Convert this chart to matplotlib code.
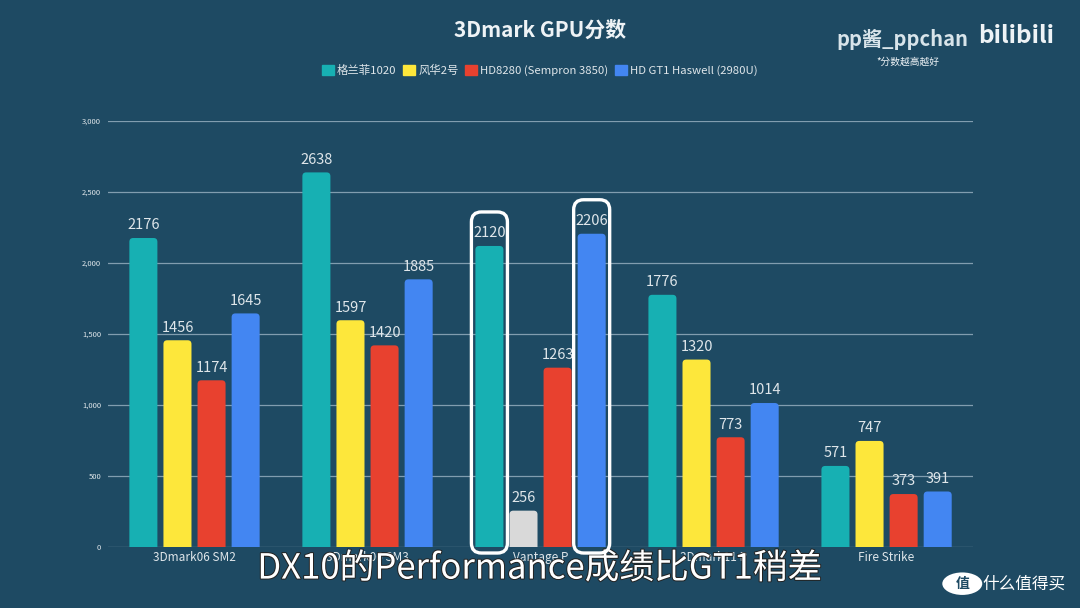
import matplotlib
matplotlib.use("Agg")
import matplotlib.pyplot as plt
import matplotlib.patheffects as pe
from matplotlib.patches import FancyBboxPatch, Rectangle, Circle
import numpy as np

BG = "#1e4a63"
TXT = "#dfe6ea"
GRID = "#819daf"

categories = ["3Dmark06 SM2", "3Dmark06 SM3", "Vantage P", "3Dmark11 P", "Fire Strike"]
series_names = ["格兰菲1020", "风华2号", "HD8280 (Sempron 3850)", "HD GT1 Haswell (2980U)"]
glenfly = [2176, 2638, 2120, 1776, 571]
fenghua = [1456, 1597, 256, 1320, 747]
hd8280 = [1174, 1420, 1263, 773, 373]
gt1 = [1645, 1885, 2206, 1014, 391]
colors = ["#17b0b3", "#fde73b", "#e8412f", "#4386f2"]
yticks = [0, 500, 1000, 1500, 2000, 2500, 3000]

plt.rcParams["font.family"] = ["Noto Sans CJK SC", "DejaVu Sans"]

fig = plt.figure(figsize=(10.8, 6.08), dpi=100)
fig.patch.set_facecolor(BG)
ax = fig.add_axes([0.1, 0.1003, 0.801, 0.7007])
ax.set_facecolor(BG)
ax.set_xlim(-0.5, 4.5)
ax.set_ylim(0, 3000)

x = np.arange(len(categories))
width = 0.162
step = 0.197
all_series = [glenfly, fenghua, hd8280, gt1]

# aspect between y and x data units, for round bar tops
ax_w = 0.801 * 1080
ax_h = 0.7007 * 608
aspect = (3000 / ax_h) / (5 / ax_w)

bars_by_series = []
for i, (vals, col) in enumerate(zip(all_series, colors)):
    pos = x + (i - 1.5) * step
    bar_cols = [col] * len(vals)
    if i == 1:
        bar_cols[2] = "#d9d9d9"  # faded bar in the Vantage group
    bars = ax.bar(pos, vals, width, color=bar_cols, zorder=3)
    for b, c in zip(bars, bar_cols):
        b.set_visible(False)
        rb = FancyBboxPatch((b.get_x(), -80), b.get_width(), b.get_height() + 80,
                            boxstyle="round,pad=0,rounding_size=0.022",
                            mutation_aspect=aspect, facecolor=c,
                            edgecolor="none", zorder=3)
        ax.add_patch(rb)
    bars_by_series.append(bars)
    for p, v in zip(pos, vals):
        ax.text(p, v + 40, str(v), ha="center", va="bottom", fontsize=10.5,
                color=TXT, zorder=4)

ax.set_yticks(yticks)
ax.set_yticklabels([f"{t:,}" for t in yticks], fontsize=5.5, color=TXT)
ax.set_xticks(x)
ax.set_xticklabels(categories, fontsize=8.5, color=TXT)
ax.tick_params(length=0, pad=3)
ax.tick_params(axis="y", pad=5)
ax.grid(axis="y", color=GRID, linewidth=0.9, zorder=0)
for s in ax.spines.values():
    s.set_visible(False)

# title + legend
fig.text(0.5, 0.95, "3Dmark GPU分数", ha="center", va="center",
         fontsize=15, fontweight="bold", color="#eef3f6")
handles = [Rectangle((0, 0), 1, 1, color=c) for c in colors]
leg = fig.legend(handles, series_names, loc="center", bbox_to_anchor=(0.5, 0.885),
                 ncol=4, frameon=False, fontsize=8.2, handlelength=1.0,
                 handleheight=1.0, handletextpad=0.3, columnspacing=0.6)
for t in leg.get_texts():
    t.set_color(TXT)

# highlight boxes around the Vantage P bars
fig.canvas.draw()
for bars in (bars_by_series[0], bars_by_series[3]):
    b = bars[2]
    (x0, y0) = ax.transData.transform((b.get_x(), 0))
    (x1, y1) = ax.transData.transform((b.get_x() + b.get_width(), b.get_height()))
    box = FancyBboxPatch((x0 - 4, y0 - 6), (x1 - x0) + 8, (y1 - y0) + 40,
                         boxstyle="round,pad=0,rounding_size=10",
                         transform=None, fill=False, edgecolor="white",
                         linewidth=2.4, zorder=5)
    fig.patches.append(box)

# watermarks
fig.text(0.774, 0.935, "pp酱_ppchan", fontsize=14.5, color="#d8e4ea",
         ha="left", va="center", fontweight="bold")
fig.text(0.906, 0.94, "bilibili", fontsize=17.5, color="#eef3f6",
         ha="left", va="center", fontweight="bold")
fig.text(0.811, 0.898, "*分数越高越好", fontsize=7, color="#eef3f6",
         ha="left", va="center")
fig.patches.append(Circle((0.891, 0.04), 0.0185, transform=fig.transFigure,
                          facecolor="white", edgecolor="none"))
fig.text(0.891, 0.04, "值", fontsize=10, color=BG, ha="center", va="center",
         fontweight="bold")
fig.text(0.91, 0.04, "什么值得买", fontsize=12, color="white", ha="left", va="center")

# subtitle overlay
fig.text(0.5, 0.064, "DX10的Performance成绩比GT1稍差", ha="center", va="center",
         fontsize=25, color="white", fontweight="light",
         path_effects=[pe.withStroke(linewidth=1.4, foreground="#222222")])

fig.savefig("out.png", dpi=100, facecolor=BG)
